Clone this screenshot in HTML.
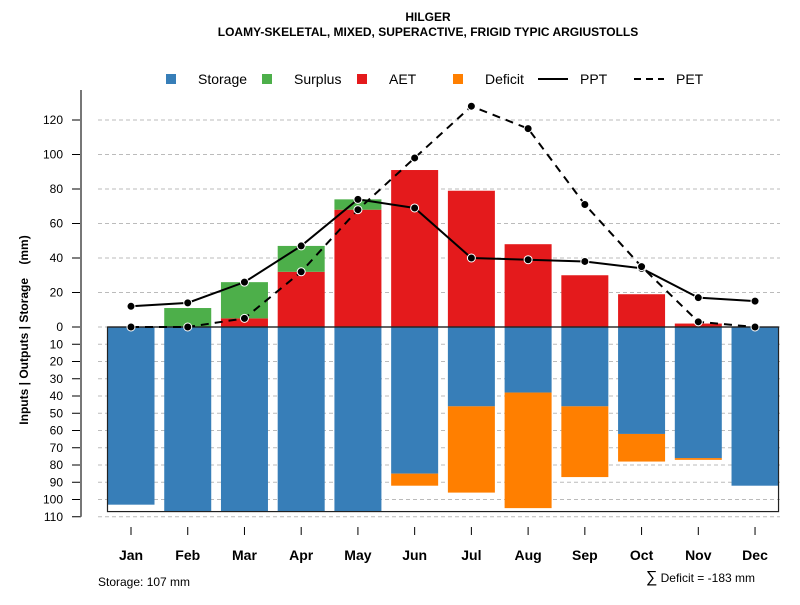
<!DOCTYPE html>
<html><head><meta charset="utf-8"><style>
body{margin:0;background:#fff}
svg{font-family:"Liberation Sans",sans-serif}
</style></head><body>
<svg id="c" width="800" height="600" xmlns="http://www.w3.org/2000/svg">
<text x="428" y="21" text-anchor="middle" font-size="12" font-weight="bold">HILGER</text>
<text x="428" y="36" text-anchor="middle" font-size="12" font-weight="bold">LOAMY-SKELETAL, MIXED, SUPERACTIVE, FRIGID TYPIC ARGIUSTOLLS</text>
<g>
<rect x="166" y="74" width="10" height="10" fill="#377EB8"/>
<text x="198" y="84" font-size="14">Storage</text>
<rect x="262" y="74" width="10" height="10" fill="#4DAF4A"/>
<text x="294" y="84" font-size="14">Surplus</text>
<rect x="357" y="74" width="10" height="10" fill="#E41A1C"/>
<text x="389" y="84" font-size="14">AET</text>
<rect x="453" y="74" width="10" height="10" fill="#FF7F00"/>
<text x="485" y="84" font-size="14">Deficit</text>
<line x1="538" y1="79" x2="568" y2="79" stroke="#000" stroke-width="2"/>
<text x="580" y="84" font-size="14">PPT</text>
<line x1="634" y1="79" x2="664" y2="79" stroke="#000" stroke-width="2" stroke-dasharray="7,5"/>
<text x="676" y="84" font-size="14">PET</text>
</g>
<text transform="translate(28,330) rotate(-90)" text-anchor="middle" font-size="12" font-weight="bold">Inputs | Outputs | Storage&#160;&#160;&#160;&#160;(mm)</text>
<text x="98" y="586" font-size="12">Storage: 107 mm</text>
<text x="755" y="582" text-anchor="end" font-size="12"><tspan font-size="16">∑</tspan> Deficit = -183 mm</text>
<g id="grid"></g><g id="bars"></g><g id="axes"></g><g id="lines"></g>
</svg>
<script>
const months=["Jan","Feb","Mar","Apr","May","Jun","Jul","Aug","Sep","Oct","Nov","Dec"];
const storage=[103,107,107,107,107,85,46,38,46,62,76,92];
const deficit=[0,0,0,0,0,7,50,67,41,16,1,0];
const aet=[0,0,5,32,68,91,79,48,30,19,2,0];
const surplus=[0,11,21,15,6,0,0,0,0,0,0,0];
const ppt=[12,14,26,47,74,69,40,39,38,34,17,15];
const pet=[0,0,5,32,68,98,128,115,71,35,3,0];
const upTicks=[0,20,40,60,80,100,120];
const downTicks=[10,20,30,40,50,60,70,80,90,100,110];
const soilStorage=107;
const NS="http://www.w3.org/2000/svg";
const Y0=327,K=1.725;
const y=v=>Y0-v*K;
const x=i=>131+i*56.73;
const BW=47;
function mk(p,t,a){const e=document.createElementNS(NS,t);for(const k in a)e.setAttribute(k,a[k]);document.getElementById(p).appendChild(e);return e;}
upTicks.forEach(v=>{
 const g=mk('grid','line',{x1:98,x2:780,y1:y(v),y2:y(v),stroke:'#bbb','stroke-dasharray':'4,3'});
 
 
 const t=mk('axes','line',{x1:72,x2:81,y1:y(v),y2:y(v),stroke:'#000'});
 
 
 const l=mk('axes','text',{x:63,y:y(v)+4,'text-anchor':'end','font-size':12});l.textContent=v;
 
 
});
downTicks.forEach(v=>{
 const g=mk('grid','line',{x1:98,x2:780,y1:y(-v),y2:y(-v),stroke:'#bbb','stroke-dasharray':'4,3'});
 
 
 const t=mk('axes','line',{x1:72,x2:81,y1:y(-v),y2:y(-v),stroke:'#000'});
 
 
 const l=mk('axes','text',{x:63,y:y(-v)+4,'text-anchor':'end','font-size':12});l.textContent=v;
 
 
});
const ax=mk('axes','line',{x1:81,x2:81,y1:90,y2:y(-110),stroke:'#777','stroke-width':2});


months.forEach((m,i)=>{
 const bx=x(i)-BW/2;
 let r=mk('bars','rect',{x:bx,y:y(0),width:BW,height:storage[i]*K,fill:'#377EB8'});
 
 
 if(deficit[i]>0){r=mk('bars','rect',{x:bx,y:y(-storage[i]),width:BW,height:deficit[i]*K,fill:'#FF7F00'});
 
 }
 if(aet[i]>0){r=mk('bars','rect',{x:bx,y:y(aet[i]),width:BW,height:aet[i]*K,fill:'#E41A1C'});
 
 }
 if(surplus[i]>0){r=mk('bars','rect',{x:bx,y:y(aet[i]+surplus[i]),width:BW,height:surplus[i]*K,fill:'#4DAF4A'});
 
 }
 const t=mk('axes','line',{x1:x(i),x2:x(i),y1:527,y2:535,stroke:'#000'});
 
 
 const l=mk('axes','text',{x:x(i),y:560,'text-anchor':'middle','font-size':14,'font-weight':'bold'});l.textContent=m;
 
 
});
const box=mk('bars','rect',{x:x(0)-BW/2,y:y(0),width:x(11)+BW/2-(x(0)-BW/2),height:soilStorage*K,fill:'none',stroke:'#222','stroke-width':1.2});


const zl=mk('bars','line',{x1:x(0)-BW/2,x2:x(11)+BW/2,y1:y(0),y2:y(0),stroke:'#222','stroke-width':1.2});


function series(arr,name,dash){
 const p=mk('lines','polyline',{points:arr.map((v,i)=>x(i)+','+y(v)).join(' '),fill:'none',stroke:'#000','stroke-width':2,'stroke-dasharray':dash});
 
 
 arr.forEach((v,i)=>{const c=mk('lines','circle',{cx:x(i),cy:y(v),r:4,fill:'#000',stroke:'#fff','stroke-width':1});
 
 });
}
series(ppt,'ppt','none');
series(pet,'pet','8,6');
</script>
</body></html>
